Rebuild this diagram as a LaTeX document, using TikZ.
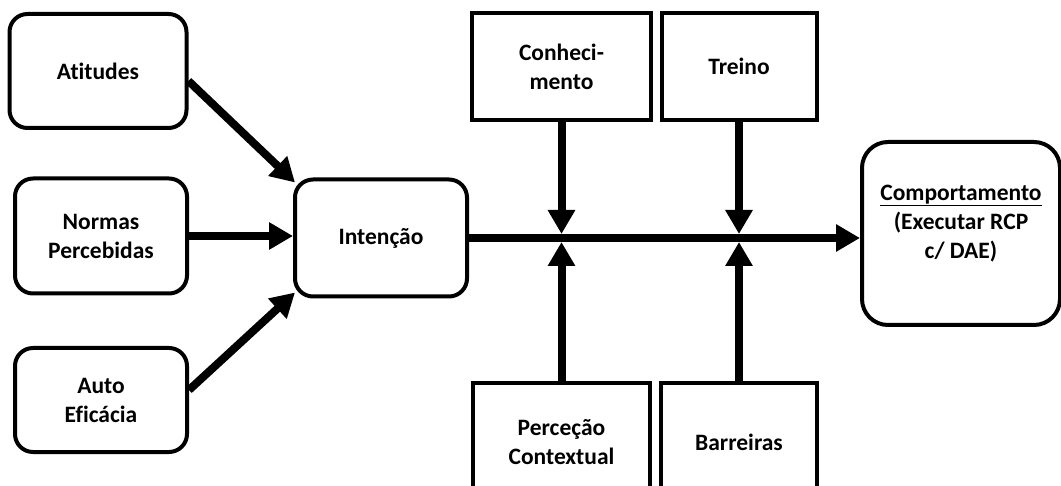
\documentclass[tikz,border=0pt]{standalone}
\usepackage{fontspec}
\setmainfont{Carlito}[Ligatures=NoCommon]
\usetikzlibrary{arrows.meta}

\begin{document}
\begin{tikzpicture}[x=1pt,y=-1pt,
    every node/.style={font=\fontsize{23.5}{29}\selectfont\bfseries, align=center},
    roundbox/.style={draw, line width=4pt, rounded corners=18pt, inner sep=0pt},
    sqbox/.style={draw, line width=4pt, inner sep=0pt},
    flow/.style={line width=8pt, -{Triangle[length=24pt,width=26pt]}}]
        \useasboundingbox (0,0) rectangle (1061,486);
        \clip (0,0) rectangle (1061,486);
        % left column
        \node[roundbox, minimum width=177pt, minimum height=114pt] (atit) at (98,71) {Atitudes};
        \node[roundbox, minimum width=172pt, minimum height=115pt] (norm) at (101,236) {Normas\\Percebidas};
        \node[roundbox, minimum width=172pt, minimum height=104pt] (auto) at (101,400) {Auto\\Eficácia};
        \node[roundbox, minimum width=172pt, minimum height=117pt] (int) at (381,238) {Intenção};
        % moderators
        \node[sqbox, minimum width=179pt, minimum height=107pt] (conh) at (561.5,66.5) {Conheci-\\mento};
        \node[sqbox, minimum width=155pt, minimum height=107pt] (trei) at (739,66.5) {Treino};
        \node[sqbox, minimum width=177pt, minimum height=118pt] (perc) at (561.5,442) {Perceção\\Contextual};
        \node[sqbox, minimum width=156pt, minimum height=118pt] (barr) at (739,442) {Barreiras};
        % outcome
        \node[roundbox, rounded corners=26pt, minimum width=198pt, minimum height=183pt] (comp) at (961,233.5) {};
        \node (comptxt) at ([yshift=10pt]comp.center) {\underline{Comportamento}\\(Executar RCP\\c/ DAE)};
        \coordinate (j1) at (conh.south |- int.east);
        \coordinate (j2) at (trei.south |- int.east);
        % arrows
        \draw[flow] ([yshift=-10pt]atit.east) -- ([shift={(2pt,-5pt)}]int.north west);
        \draw[flow] (norm.east) -- (norm.east -| int.west);
        \draw[flow] ([yshift=10pt]auto.east) -- ([shift={(2pt,6pt)}]int.south west);
        \draw[flow] (int.east) -- (comp.west |- int.east);
        \draw[flow, shorten >=4pt] (conh.south) -- (j1);
        \draw[flow, shorten >=4pt] (trei.south) -- (j2);
        \draw[flow, shorten >=4pt] (perc.north) -- (j1);
        \draw[flow, shorten >=4pt] (barr.north) -- (j2);
      \end{tikzpicture}
\end{document}
